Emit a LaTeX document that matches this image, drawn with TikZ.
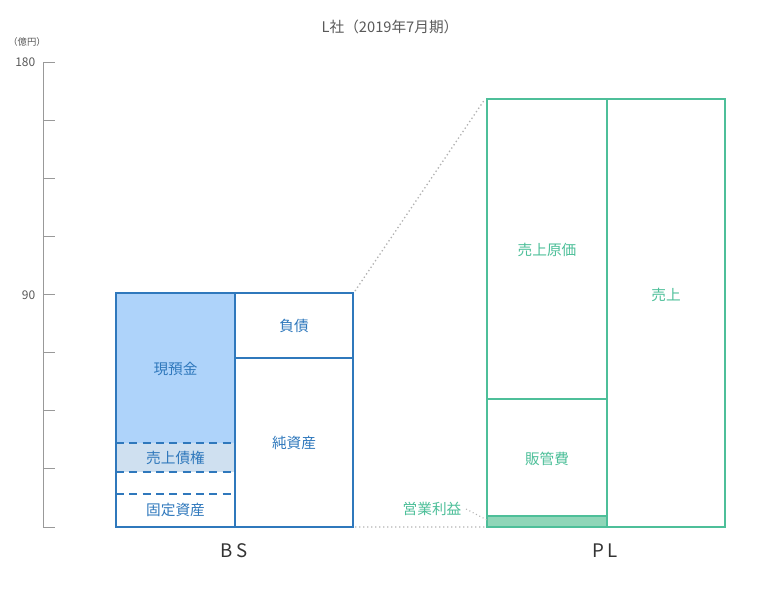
\documentclass[tikz,border=0pt]{standalone}
\usepackage{fontspec}
\setmainfont{Noto Sans CJK JP}
\definecolor{bsb}{HTML}{2F78BC}
\definecolor{bsf}{HTML}{AED3FA}
\definecolor{bsl}{HTML}{CFE0F0}
\definecolor{plg}{HTML}{4DBF99}
\definecolor{plf}{HTML}{8FD6B8}
\begin{document}
\begin{tikzpicture}[x=0.75pt,y=-0.75pt,
  bst/.style={text=bsb,font=\fontsize{11}{13}\selectfont},
  plt/.style={text=plg,font=\fontsize{11}{13}\selectfont},
  tk/.style={draw=gray!80,line width=0.6pt},
  lbl/.style={font=\fontsize{9}{11}\selectfont,text=gray!70!black}]
\useasboundingbox (0,0) rectangle (780,593);
\node[lbl,font=\fontsize{11}{13}\selectfont] (title) at (390,27) {L社（2019年7月期）};
\node[lbl,font=\fontsize{7}{9}\selectfont] (unit) at (27,42) {（億円）};
\draw[tk] (43,62) -- (43,527);
\foreach \i in {0,...,8} \draw[tk] (43,62+58.125*\i) -- (55,62+58.125*\i);
\node[lbl,anchor=east] (l180) at (40,62) {180};
\node[lbl,anchor=east] (l90) at (40,295) {90};
% BS
\fill[bsf] (116,293) rectangle (235,443);
\fill[bsl] (116,443) rectangle (235,472);
\draw[bsb,line width=1pt,dashed,dash pattern=on 6pt off 4pt] (116,443)--(235,443) (116,472)--(235,472) (116,494)--(235,494);
\draw[bsb,line width=1pt] (235,358)--(353,358);
\draw[bsb,line width=1.8pt] (116,293) rectangle (353,527) (235,293)--(235,527);
\node[bst] (cash) at (175.5,369) {現預金};
\node[bst] (ar) at (175.5,458) {売上債権};
\node[bst] (fa) at (175.5,510) {固定資産};
\node[bst] (debt) at (294,326) {負債};
\node[bst] (eq) at (294,443) {純資産};
\node[font=\fontsize{14}{16}\selectfont,text=black!80] (bs) at (234,551) {B\,S};
% PL
\fill[plf] (487,516) rectangle (607,527);
\draw[plg,line width=1pt] (487,399)--(607,399) (487,516)--(607,516);
\draw[plg,line width=1.8pt] (487,99) rectangle (725,527) (607,99)--(607,527);
\node[plt] (cogs) at (547,250) {売上原価};
\node[plt] (sga) at (547,459) {販管費};
\node[plt] (rev) at (666,295) {売上};
\node[plt] (op) at (432,509) {営業利益};
\node[font=\fontsize{14}{16}\selectfont,text=black!80] (pl) at (605,551) {P\,L};
\draw[gray!60,dotted,line width=1pt] (355,291)--(485,99) (355,527)--(485,527);
\draw[gray!60,dotted,line width=0.8pt] (op.east)--(487,520);
\end{tikzpicture}
\end{document}
